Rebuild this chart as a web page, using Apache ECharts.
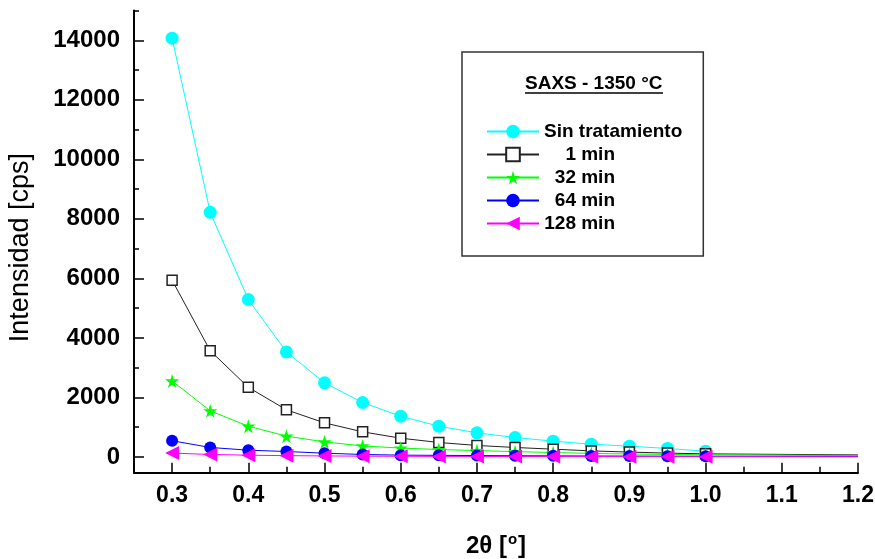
<!DOCTYPE html>
<html>
<head>
<meta charset="utf-8">
<script src="https://cdn.jsdelivr.net/npm/echarts@6/dist/echarts.min.js"></script>
<style>html,body{margin:0;padding:0;background:#fff}#c{width:875px;height:559px}</style>
</head>
<body>
<div id="c"></div>
<script>
// ---- data ----
const xValues = [0.3, 0.35, 0.4, 0.45, 0.5, 0.55, 0.6, 0.65, 0.7, 0.75, 0.8, 0.85, 0.9, 0.95, 1.0];
const xTail = 1.2;
const sinTratamiento = [14070, 8220, 5290, 3530, 2490, 1830, 1370, 1035, 810, 655, 531, 430, 363, 286, 195];
const min1   = [5940, 3570, 2340, 1585, 1146, 844, 632, 487, 387, 319, 262, 205, 165, 130, 105];
const min1Tail = 70;
const min32  = [2555, 1550, 1035, 700, 508, 370, 300, 250, 215, 180, 150, 120, 100, 85, 75];
const min32Tail = 50;
const min64  = [545, 320, 228, 184, 128, 84, 62, 55, 48, 42, 38, 34, 30, 27, 25];
const min64Tail = 18;
const min128 = [130, 85, 60, 45, 35, 28, 24, 20, 18, 16, 14, 12, 11, 10, 9];
const min128Tail = 5;

const xMajorTicks = [0.3, 0.4, 0.5, 0.6, 0.7, 0.8, 0.9, 1.0, 1.1, 1.2];
const xMinorTicks = [0.35, 0.45, 0.55, 0.65, 0.75, 0.85, 0.95, 1.05, 1.15];
const yMajorTicks = [0, 2000, 4000, 6000, 8000, 10000, 12000, 14000];
const yMinorTicks = [1000, 3000, 5000, 7000, 9000, 11000, 13000, 15000];

const seriesNames = ['Sin tratamiento', '1 min', '32 min', '64 min', '128 min'];
const titleText = 'SAXS - 1350 °C';
const xTitle = '2θ [';
const yTitle = 'Intensidad [cps]';

// ---- build ----
function pts(ys, tail) {
  const d = xValues.map((x, i) => [x, ys[i]]);
  if (tail !== undefined) d.push({ value: [xTail, tail], symbol: 'none' });
  return d;
}
const FONT = 'Liberation Sans';
const starPath = 'path://M50,0 L61,35 L98,35 L68,57 L79,91 L50,70 L21,91 L32,57 L2,35 L39,35 Z';

const chart = echarts.init(document.getElementById('c'), null, { renderer: 'canvas' });

const axisCommon = {
  type: 'value',
  splitLine: { show: false },
};

chart.setOption({
  animation: false,
  backgroundColor: '#fff',
  title: {
    text: titleText,
    left: 525, top: 74, padding: 0,
    textStyle: { fontFamily: FONT, fontSize: 19, fontWeight: 'bold', color: '#000' }
  },
  graphic: [
    { type: 'line', shape: { x1: 525, y1: 93, x2: 663, y2: 93 }, style: { stroke: '#000', lineWidth: 1.5 } }
  ],
  legend: {
    data: seriesNames,
    orient: 'vertical',
    left: 462, top: 52,
    padding: [70, 21, 23, 24],
    borderColor: '#333', borderWidth: 1.5,
    itemWidth: 52, itemHeight: 17, itemGap: 4,
    textStyle: {
      fontFamily: FONT, fontSize: 19, fontWeight: 'bold', color: '#000', lineHeight: 19,
      rich: { r: { fontFamily: FONT, fontSize: 19, fontWeight: 'bold', color: '#000', width: 71, align: 'right', lineHeight: 19 } }
    },
    formatter: function (name) {
      return name === seriesNames[0] ? name : '{r|' + name + '}';
    }
  },
  grid: { left: 134, right: 17, top: 10.5, bottom: 86.3, outerBoundsMode: 'none' },
  xAxis: [
    Object.assign({}, axisCommon, {
      min: 0.25, max: 1.2,
      name: xTitle + '{s|o}]',
      nameLocation: 'middle', nameGap: 60,
      nameTextStyle: {
        fontFamily: FONT, fontSize: 24, fontWeight: 'bold', color: '#000',
        rich: { s: { fontFamily: FONT, fontSize: 15, fontWeight: 'bold', color: '#000', verticalAlign: 'top', padding: [0, 1, 12, 1] } }
      },
      axisLine: { show: true, onZero: false, lineStyle: { color: '#000', width: 2 } },
      axisTick: { show: true, inside: true, length: 10, lineStyle: { color: '#000', width: 1.5 }, customValues: xMajorTicks },
      axisLabel: {
        customValues: xMajorTicks, margin: 11,
        formatter: v => Number(v).toFixed(1),
        fontFamily: FONT, fontSize: 23, fontWeight: 'bold', color: '#000'
      }
    }),
    Object.assign({}, axisCommon, {
      min: 0.25, max: 1.2, position: 'bottom',
      axisLine: { show: false, onZero: false },
      axisTick: { show: true, inside: true, length: 6, lineStyle: { color: '#000', width: 1.5 }, customValues: xMinorTicks },
      axisLabel: { show: false }
    })
  ],
  yAxis: [
    Object.assign({}, axisCommon, {
      min: -528, max: 15000,
      name: yTitle,
      nameLocation: 'middle', nameGap: 100,
      nameTextStyle: { fontFamily: FONT, fontSize: 27, color: '#000', padding: [0, 12, 0, 0] },
      axisLine: { show: true, onZero: false, lineStyle: { color: '#000', width: 2 } },
      axisTick: { show: true, inside: true, length: 10, lineStyle: { color: '#000', width: 1.5 }, customValues: yMajorTicks },
      axisLabel: {
        customValues: yMajorTicks, margin: 14,
        formatter: v => String(Math.round(v)),
        fontFamily: FONT, fontSize: 24, fontWeight: 'bold', color: '#000'
      }
    }),
    Object.assign({}, axisCommon, {
      min: -528, max: 15000, position: 'left',
      axisLine: { show: false, onZero: false },
      axisTick: { show: true, inside: true, length: 5, lineStyle: { color: '#000', width: 1.5 }, customValues: yMinorTicks },
      axisLabel: { show: false }
    })
  ],
  series: [
    {
      name: seriesNames[0], type: 'line', data: pts(sinTratamiento),
      symbol: 'circle', symbolSize: 13,
      itemStyle: { color: '#00FFFF' }, lineStyle: { color: '#00FFFF', width: 1 }
    },
    {
      name: seriesNames[1], type: 'line', data: pts(min1, min1Tail),
      symbol: 'rect', symbolSize: 10,
      itemStyle: { color: '#fff', borderColor: '#222', borderWidth: 1.5 }, lineStyle: { color: '#222', width: 1 }
    },
    {
      name: seriesNames[2], type: 'line', data: pts(min32, min32Tail),
      symbol: starPath, symbolSize: 14,
      itemStyle: { color: '#00FF00' }, lineStyle: { color: '#00FF00', width: 1 }
    },
    {
      name: seriesNames[3], type: 'line', data: pts(min64, min64Tail),
      symbol: 'circle', symbolSize: 12,
      itemStyle: { color: '#0000FF' }, lineStyle: { color: '#0000FF', width: 1 }
    },
    {
      name: seriesNames[4], type: 'line', data: pts(min128, min128Tail),
      symbol: 'triangle', symbolSize: 14, symbolRotate: 90,
      itemStyle: { color: '#FF00FF' }, lineStyle: { color: '#FF00FF', width: 1 }
    }
  ]
});
</script>
</body>
</html>
